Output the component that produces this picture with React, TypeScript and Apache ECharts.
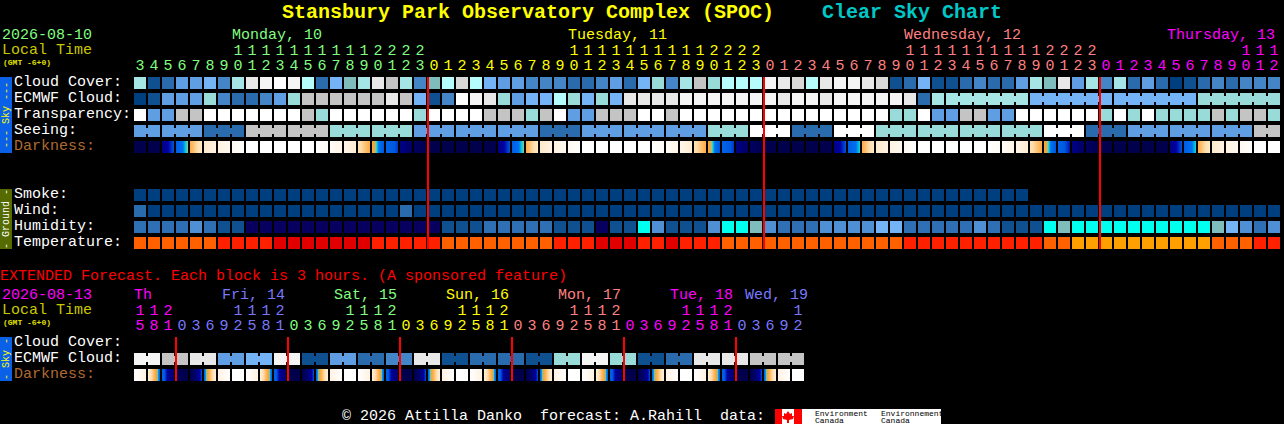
import React, { useEffect, useRef } from "react";
import * as echarts from "echarts";

// ---------- texts ----------
const titleMain = "Stansbury Park Observatory Complex (SPOC)";
const titleSide = "Clear Sky Chart";
const mainRows = ["Cloud Cover:", "ECMWF Cloud:", "Transparency:", "Seeing:", "Darkness:", " ", "  ", "Smoke:", "Wind:", "Humidity:", "Temperature:"];
const extRows = ["Cloud Cover:", "ECMWF Cloud:", "Darkness:"];
const mainDays = ["Monday, 10", "Tuesday, 11", "Wednesday, 12", "Thursday, 13"];
const extDays = ["Th", "Fri, 14", "Sat, 15", "Sun, 16", "Mon, 17", "Tue, 18", "Wed, 19"];
const extendedNote = "EXTENDED Forecast. Each block is 3 hours. (A sponsored feature)";
const footer = "© 2026 Attilla Danko  forecast: A.Rahill  data:";

// ---------- hours along the axes ----------
const mainHours = [3,4,5,6,7,8,9,10,11,12,13,14,15,16,17,18,19,20,21,22,23,
  0,1,2,3,4,5,6,7,8,9,10,11,12,13,14,15,16,17,18,19,20,21,22,23,
  0,1,2,3,4,5,6,7,8,9,10,11,12,13,14,15,16,17,18,19,20,21,22,23,
  0,1,2,3,4,5,6,7,8,9,10,11,12];
const extHours = [15,18,21,
  0,3,6,9,12,15,18,21, 0,3,6,9,12,15,18,21, 0,3,6,9,12,15,18,21,
  0,3,6,9,12,15,18,21, 0,3,6,9,12,15,18,21, 0,3,6,9,12];

// ---------- forecast levels (index into the scale of each row) ----------
const cloudCover = [8,1,2,4,4,5,3,8,12,13,14,13,9,2,5,6,8,12,10,8,3,
  6,9,11,9,5,4,4,3,3,3,2,2,3,4,2,5,7,3,8,10,7,9,9,9,13,12,11,9,12,13,
  13,12,11,1,2,5,1,1,2,3,2,2,4,8,6,12,4,8,3,8,2,4,2,0,1,2,3,2,3,3,3];
const ecmwfCloud = [0,1,4,4,4,7,3,2,2,3,4,7,10,10,10,10,10,10,12,10,5,
  1,3,14,13,12,7,4,5,5,9,7,5,7,5,12,12,12,12,13,13,13,13,13,13,13,12,13,13,12,13,
  13,13,13,13,12,2,8,8,8,8,8,8,8,5,5,5,5,5,5,5,5,5,5,5,5,7,7,7,7,7,7];
const ecmwfSpanStarts = [58,64,70,76];
const ecmwfSpanSizes = [6,6,6,6];
const transparency = [14,4,4,10,10,14,14,14,14,14,14,14,10,7,14,14,14,14,14,14,7,
  14,14,14,14,10,10,10,7,10,14,4,4,10,10,10,14,14,10,
  14,14,14,14,14,14,14,14,14,14,14,14,14,14,14,
  7,7,14,4,4,10,10,4,4,14,14,14,14,14,14,7,14,7,14,7,7,7,7,10,7,10,10,7];
const seeingBySpan = [4,4,2,10,10,7,7,4,4,4,2,4,4,4,7,14,2,14,7,7,7,7,14,2,4,4,4,10];
const seeingSpanSizes = [2,3,3,3,3,3,3,3,3,3,3,3,3,3,3,3,3,3,3,3,3,3,3,3,3,3,3,2];
const darknessFrom = [10,10,8,6.8,4.5,2,1.3,.7,0,0,0,0,0,0,.4,1,2.5,4.7,6.5,8,9,
  10,10,10,10,10,8,6.8,4.5,2,1.3,.7,0,0,0,0,0,0,.4,1,2.5,4.7,6.5,8,9,
  10,10,10,10,10,8,6.8,4.5,2,1.3,.7,0,0,0,0,0,0,.4,1,2.5,4.7,6.5,8,9,
  10,10,10,10,10,8,6.8,4.5,2,1.3,.7,0,0];
const darknessTo = [10,10,7,5.4,2,1.3,.7,0,0,0,0,0,0,.4,1,1.7,4.5,7,7.2,8.8,10,
  10,10,10,10,10,7,5.4,2,1.3,.7,0,0,0,0,0,0,.4,1,1.7,4.5,7,7.2,8.8,10,
  10,10,10,10,10,7,5.6,2,1.3,.7,0,0,0,0,0,0,.4,1,1.7,4.5,7,7.4,8.8,10,
  10,10,10,10,10,7,5.6,2,1.3,.7,0,0,0];
const smoke = [0,0,0,0,0,0,0,0,0,0,0,0,0,0,0,0,0,0,0,0,0,0,0,0,0,0,0,0,0,0,0,0,
  0,0,0,0,0,0,0,0,0,0,0,0,0,0,0,0,0,0,0,0,0,0,0,0,0,0,0,0,0,0,0,0];
const wind = [2,0,0,0,0,0,0,0,0,0,0,0,0,0,0,0,0,0,0,2,0,
  0,0,0,0,0,0,0,0,0,0,0,0,0,0,0,0,0,0,0,0,0,0,0,0,0,0,0,0,0,0,
  0,0,0,0,0,0,0,0,0,0,0,0,0,0,0,0,0,0,0,0,0,0,0,0,0,0,0,0,0,0,0];
const humidity = [2,2,2,2,3,2,1,1,0,0,0,0,0,0,0,0,0,0,0,0,0,
  0,1,1,1,2,2,2,2,2,1,1,1,0,1,1,6,3,1,1,1,3,6,6,5,3,2,2,2,3,3,
  3,3,4,4,2,2,2,2,2,3,2,1,1,1,6,5,6,6,6,6,6,6,6,6,6,6,5,4,3,2,3];
const temperature = [2,2,2,2,2,2,1,1,1,1,0,0,0,0,0,0,0,1,1,1,1,
  1,2,2,2,2,2,2,2,2,1,1,1,0,0,0,1,1,0,1,1,1,2,2,2,2,2,2,2,2,2,
  2,2,2,2,1,1,1,1,1,1,1,1,1,1,2,2,3,3,3,3,3,3,3,3,3,3,2,2,2,1,1];

const extEcmwfByPair = [13,10,12,4,5,13,1,4,2,3,12,1,2,2,1,7,13,7,1,2,12,12,10,10];
const extDarknessFrom = [0,1.5,6.5,9.5,10,6.5,1.3,0, 0,1.5,6.5,10,10,6.5,1.3,0, 0,1.5,6.5,10,10,6.5,1.3,0,
  0,1.5,6.5,10,10,6.5,1.3,0, 0,1.5,6.5,10,10,6.5,1.3,0, 0,1.5,6.5,10,10,6.5,1.3,0];
const extDarknessTo = [1.3,6.5,8.8,10,7,1.5,0,0, 1.3,6.5,8.8,10,7,1.5,0,0, 1.3,6.5,8.8,10,7,1.5,0,0,
  1.3,6.5,8.8,10,7,1.5,0,0, 1.3,6.5,8.8,10,7,1.5,0,0, 1.3,6.5,8.8,10,7,1.5,0,0];

const midnightsMain = [21,45,69];
const midnightsExt = [3,11,19,27,35,43];

// ---------- colour scales ----------
const skyScale = ["#003f7f","#0f5090","#2a6bad","#4485c8","#5f9ee3","#74b3f5","#7fbdbd","#99dbd9","#a5e5e5","#b7fcfc","#c4c4c4","#d8d8d8","#e8e8e8","#f5f5f5","#ffffff"];
const humidityScale = ["#08005e","#0f5090","#2f70b5","#4f90d5","#74b3f5","#7fbdbd","#00ffee"];
const temperatureScale = ["#e00000","#ff2000","#ff6000","#ffa000"];
const darknessStops: [number, string][] = [[0,"#ffffff"],[1,"#fff5e8"],[2,"#ffeacc"],[3,"#ffdca8"],[4,"#ffb860"],[5,"#ffa030"],[5.4,"#90c890"],[5.7,"#00c8e0"],[6,"#0070f0"],[7,"#0058e0"],[7.5,"#0000a0"],[8.5,"#000070"],[10,"#00004c"]];

const hexToRgb = (h: string) => [1,3,5].map((i) => parseInt(h.slice(i, i + 2), 16));
function darknessColor(level: number): string {
  for (let i = 1; i < darknessStops.length; i++) {
    const [l0, c0] = darknessStops[i - 1];
    const [l1, c1] = darknessStops[i];
    if (level <= l1) {
      const t = (level - l0) / (l1 - l0);
      const a = hexToRgb(c0), b = hexToRgb(c1);
      return `rgb(${a.map((v, k) => Math.round(v + (b[k] - v) * t)).join(",")})`;
    }
  }
  return darknessStops[darknessStops.length - 1][1];
}
function darknessFill(from: number, to: number) {
  if (from === to) return darknessColor(from);
  const lo = Math.min(from, to), hi = Math.max(from, to);
  const inner = darknessStops.filter(([l]) => l > lo && l < hi).map(([l, c]) => ({ offset: (l - from) / (to - from), color: c }));
  inner.sort((a, b) => a.offset - b.offset);
  return { type: "linear", x: 0, y: 0, x2: 1, y2: 0, global: false,
    colorStops: [{ offset: 0, color: darknessColor(from) }, ...inner, { offset: 1, color: darknessColor(to) }] };
}

// ---------- layout ----------
const FONT = '"Liberation Mono", monospace';
const STEP = 14, ROW = 16, CELL = 12;
// The row labels sit one pixel above the centre of their cells.
const CELL_NUDGE = 1;
const MAIN = { left: 133, top: 74 };
const EXT = { left: 133, top: 334 };

const dayColors: Record<string, string> = { mon: "#80ff80", tue: "#ffff00", wed: "#ff8080", thu: "#ff00ff", fri: "#7878ff" };
const mainDayColors = [dayColors.mon, dayColors.tue, dayColors.wed, dayColors.thu];
const mainDayX = [232, 568, 904, 1167];
const extDayColors = [dayColors.thu, dayColors.fri, dayColors.mon, dayColors.tue, dayColors.wed, dayColors.thu, dayColors.fri];
const extDayX = [134, 222, 334, 446, 558, 670, 745];

const mainHourColor = (i: number) => (i < 21 ? mainDayColors[0] : i < 45 ? mainDayColors[1] : i < 69 ? mainDayColors[2] : mainDayColors[3]);
const extHourColor = (i: number) => {
  const breaks = [3, 11, 19, 27, 35, 43];
  let k = 0;
  while (k < breaks.length && i >= breaks[k]) k++;
  return extDayColors[k];
};

function spansFromSizes(sizes: number[]) {
  const joined = new Set<number>();
  let c = 0;
  sizes.forEach((s) => { for (let i = 0; i < s - 1; i++) joined.add(c + i); c += s; });
  return joined;
}

function cellSeries(gridIdx: number, xIdx: number, yIdx: number, row: number, fills: any[], joined?: Set<number>) {
  return {
    type: "custom", xAxisIndex: xIdx, yAxisIndex: yIdx, clip: false, silent: true,
    encode: { x: 0, y: 1 },
    data: fills.map((_, c) => [c, row]),
    renderItem: (_p: any, api: any) => {
      const col = api.value(0);
      const [cx, cy] = api.coord([col, api.value(1)]);
      const x = cx - CELL / 2, y = cy - CELL / 2 + CELL_NUDGE;
      const kids: any[] = [{ type: "rect", shape: { x, y, width: CELL, height: CELL }, style: { fill: fills[col] } }];
      if (joined && joined.has(col)) {
        kids.push({ type: "rect", shape: { x: x + CELL, y: y + 3, width: STEP - CELL, height: 6 }, style: { fill: fills[col] } });
      }
      return { type: "group", children: kids };
    },
  };
}

function lineSeries(xIdx: number, yIdx: number, cols: number[], firstRow: number, lastRow: number) {
  return {
    type: "custom", xAxisIndex: xIdx, yAxisIndex: yIdx, clip: false, silent: true, z: 5,
    encode: { x: 0, y: 1 },
    data: cols.map((c) => [c, firstRow]),
    renderItem: (_p: any, api: any) => {
      const top = api.coord([api.value(0), firstRow]);
      const bot = api.coord([api.value(0), lastRow]);
      return { type: "rect", shape: { x: top[0] - STEP / 2, y: top[1] - CELL / 2 + CELL_NUDGE, width: 2, height: bot[1] - top[1] + CELL }, style: { fill: "#ff0000" } };
    },
  };
}

const txt = (text: string, x: number, y: number, fill: string, size = 15, extra: any = {}, weight = "normal") => ({
  type: "text", x, y, z: 10, silent: true, ...extra,
  style: { text, fill, font: `${weight} ${size}px ${FONT}`, verticalAlign: "middle", align: extra.align || "left" },
});

function buildGraphics() {
  const g: any[] = [
    txt(titleMain, 282, 12, "#ffff00", 20, {}, "bold"),
    txt(titleSide, 822, 12, "#00c8c8", 20, {}, "bold"),
    txt("2026-08-10", 2, 35, "#80ff80"),
    txt("Local Time", 2, 50, "#c8c800"),
    txt("(GMT -6+0)", 3, 62, "#e0e000", 8, {}, "bold"),
    txt("2026-08-13", 2, 295, "#ff00ff"),
    txt("Local Time", 2, 310, "#c8c800"),
    txt("(GMT -6+0)", 3, 322, "#e0e000", 8, {}, "bold"),
    txt(extendedNote, 0, 276, "#ff0000"),
    txt(footer, 342, 416, "#ffffff"),
    { type: "rect", z: 9, shape: { x: 0, y: 77, width: 12, height: 76 }, style: { fill: "#0a60e6" } },
    { type: "rect", z: 9, shape: { x: 0, y: 189, width: 12, height: 60 }, style: { fill: "#556b00" } },
    { type: "rect", z: 9, shape: { x: 0, y: 337, width: 12, height: 44 }, style: { fill: "#0a60e6" } },
    txt("--- Sky ---", 6, 115, "#ffff00", 10, { rotation: Math.PI / 2, align: "center" }),
    txt("- Ground -", 6, 219, "#ffffff", 10, { rotation: Math.PI / 2, align: "center" }),
    txt("- Sky -", 6, 359, "#ffff00", 10, { rotation: Math.PI / 2, align: "center" }),
    { type: "rect", z: 9, shape: { x: 775, y: 409, width: 166, height: 15 }, style: { fill: "#ffffff" } },
    { type: "rect", z: 9, shape: { x: 775, y: 409, width: 7, height: 15 }, style: { fill: "#ff0000" } },
    { type: "rect", z: 9, shape: { x: 794, y: 409, width: 8, height: 15 }, style: { fill: "#ff0000" } },
    { type: "polygon", z: 10, shape: { points: [[788,411],[790,414],[792,413],[792,416],[794,416],[793,419],[789,420],[789,423],[787,423],[787,420],[783,419],[782,416],[784,416],[784,413],[786,414]] }, style: { fill: "#ff0000" } },
    txt("Environment", 815, 413, "#000000", 8),
    txt("Canada", 815, 420, "#000000", 8),
    txt("Environnement", 881, 413, "#000000", 8),
    txt("Canada", 881, 420, "#000000", 8),
  ];
  mainDays.forEach((d, i) => g.push(txt(d, mainDayX[i], 35, mainDayColors[i])));
  extDays.forEach((d, i) => g.push(txt(d, extDayX[i], 295, extDayColors[i])));
  return g;
}

const hourAxis = (grid: number, hours: number[], kind: "ones" | "tens", color: (i: number) => string) => ({
  type: "category", gridIndex: grid, position: "top", offset: kind === "ones" ? 0 : 15,
  data: hours.map((h) => String(h)),
  axisLine: { show: false }, axisTick: { show: false }, splitLine: { show: false },
  axisLabel: {
    show: true, interval: 0, margin: 0, fontFamily: FONT, fontSize: 15, hideOverlap: false,
    color: (_v: any, i: number) => color(i),
    formatter: (v: string) => {
      const n = Number(v);
      return kind === "ones" ? String(n % 10) : n >= 10 ? String(Math.floor(n / 10)) : "";
    },
  },
});

const rowAxis = (grid: number, rows: string[]) => ({
  type: "category", gridIndex: grid, inverse: true, data: rows,
  axisLine: { show: false }, axisTick: { show: false }, splitLine: { show: false },
  axisLabel: {
    show: true, interval: 0, align: "left", margin: 119, fontFamily: FONT, fontSize: 15,
    color: (v: string) => (v === "Darkness:" ? "#b06a30" : "#ffffff"),
  },
});

function buildOption() {
  const sky = (vals: number[]) => vals.map((v) => skyScale[v]);
  const seeing: number[] = [];
  seeingBySpan.forEach((v, i) => { for (let k = 0; k < seeingSpanSizes[i]; k++) seeing.push(v); });
  const ecmwfJoined = new Set<number>();
  ecmwfSpanStarts.forEach((s, i) => { for (let k = 0; k < ecmwfSpanSizes[i] - 1; k++) ecmwfJoined.add(s + k); });
  const extEcmwf: number[] = [];
  extEcmwfByPair.forEach((v) => extEcmwf.push(v, v));
  const extJoined = spansFromSizes(extEcmwfByPair.map(() => 2));

  return {
    animation: false,
    backgroundColor: "#000000",
    tooltip: { show: false },
    grid: [
      { left: MAIN.left, top: MAIN.top, width: STEP * mainHours.length, height: ROW * mainRows.length },
      { left: EXT.left, top: EXT.top, width: STEP * extHours.length, height: ROW * extRows.length },
    ],
    xAxis: [
      hourAxis(0, mainHours, "ones", mainHourColor),
      hourAxis(0, mainHours, "tens", mainHourColor),
      hourAxis(1, extHours, "ones", extHourColor),
      hourAxis(1, extHours, "tens", extHourColor),
    ],
    yAxis: [rowAxis(0, mainRows), rowAxis(1, extRows)],
    series: [
      cellSeries(0, 0, 0, 0, sky(cloudCover)),
      cellSeries(0, 0, 0, 1, sky(ecmwfCloud), ecmwfJoined),
      cellSeries(0, 0, 0, 2, sky(transparency)),
      cellSeries(0, 0, 0, 3, sky(seeing), spansFromSizes(seeingSpanSizes)),
      cellSeries(0, 0, 0, 4, darknessFrom.map((f, i) => darknessFill(f, darknessTo[i]))),
      cellSeries(0, 0, 0, 7, sky(smoke)),
      cellSeries(0, 0, 0, 8, sky(wind)),
      cellSeries(0, 0, 0, 9, humidity.map((v) => humidityScale[v])),
      cellSeries(0, 0, 0, 10, temperature.map((v) => temperatureScale[v])),
      lineSeries(0, 0, midnightsMain, 0, 10),
      cellSeries(1, 2, 1, 1, sky(extEcmwf), extJoined),
      cellSeries(1, 2, 1, 2, extDarknessFrom.map((f, i) => darknessFill(f, extDarknessTo[i]))),
      lineSeries(2, 1, midnightsExt, 0, 2),
    ],
    graphic: buildGraphics(),
  };
}

export default function App() {
  const ref = useRef<HTMLDivElement | null>(null);
  useEffect(() => {
    if (!ref.current) return;
    document.body.style.margin = "0";
    document.body.style.background = "#000";
    const chart = echarts.init(ref.current, undefined, { renderer: "svg" });
    chart.setOption(buildOption() as any);
    return () => chart.dispose();
  }, []);
  return <div ref={ref} style={{ position: "absolute", left: 0, top: 0, width: 1284, height: 424 }} />;
}
